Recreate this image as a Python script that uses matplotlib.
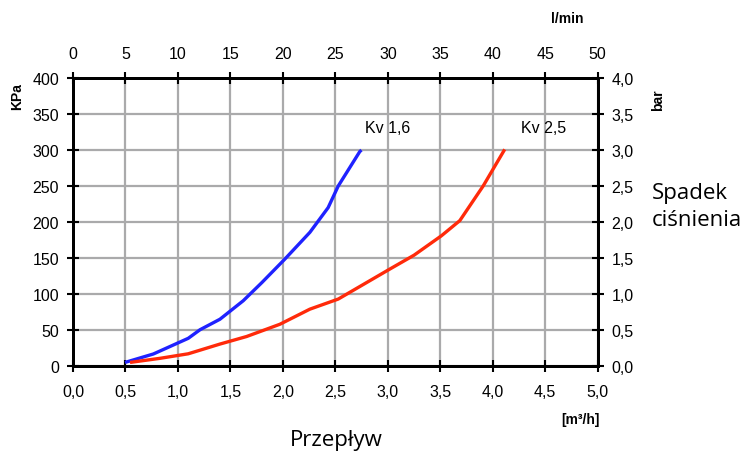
import matplotlib
matplotlib.use("Agg")
import matplotlib.pyplot as plt
from matplotlib.ticker import FixedLocator, FuncFormatter

plt.rcParams['font.family'] = ['Liberation Sans', 'DejaVu Sans']

# Flow [m3/h] vs pressure drop [kPa]
kv16_flow = [0.495, 0.765, 1.098, 1.21, 1.40, 1.622, 1.80, 2.019, 2.257, 2.431, 2.527, 2.733, 2.749]
kv16_dp = [5, 16.7, 38.5, 50.4, 65, 90.7, 116, 148.6, 185.7, 220, 250, 298, 300]

kv25_flow = [0.543, 0.829, 1.098, 1.40, 1.654, 1.971, 2.257, 2.527, 3.019, 3.25, 3.511, 3.686, 3.908, 4.114]
kv25_dp = [5, 10.7, 17, 30.5, 41, 58, 79, 93, 134.7, 154, 181, 202, 250, 301]

x_ticks = [0.0, 0.5, 1.0, 1.5, 2.0, 2.5, 3.0, 3.5, 4.0, 4.5, 5.0]
y_ticks = [0, 50, 100, 150, 200, 250, 300, 350, 400]
top_ticks = [0, 5, 10, 15, 20, 25, 30, 35, 40, 45, 50]
bar_ticks = [0.0, 0.5, 1.0, 1.5, 2.0, 2.5, 3.0, 3.5, 4.0]

fig = plt.figure(figsize=(7.49, 4.52), dpi=100)
ax = fig.add_axes([0.0975, 0.188, 0.7005, 0.637])

grid_c = '#aaaaab'
for xv in x_ticks:
    ax.axvline(xv, color=grid_c, lw=1.6, zorder=1)
for yv in y_ticks:
    ax.axhline(yv, color=grid_c, lw=1.6, zorder=1)

ax.plot(kv16_flow, kv16_dp, color='#1f22ff', lw=2.4, zorder=3, solid_capstyle='butt')
ax.plot(kv25_flow, kv25_dp, color='#ff2a0a', lw=2.4, zorder=3, solid_capstyle='butt')

tick_fs = 11.5
ax.set_xlim(0, 5)
ax.set_ylim(0, 400)
comma1 = FuncFormatter(lambda v, p: f"{v:.1f}".replace('.', ','))
ax.xaxis.set_major_locator(FixedLocator(x_ticks))
ax.xaxis.set_major_formatter(comma1)
ax.yaxis.set_major_locator(FixedLocator(y_ticks))
ax.yaxis.set_major_formatter(FuncFormatter(lambda v, p: f"{int(v)}"))
ax.tick_params(axis='x', direction='inout', length=8, width=1.5, labelsize=tick_fs, pad=9)
ax.tick_params(axis='y', direction='inout', length=8, width=1.5, labelsize=tick_fs, pad=6)

for s in ax.spines.values():
    s.set_linewidth(2)
    s.set_color('black')

axt = ax.twiny()
axt.set_xlim(0, 50)
axt.xaxis.set_major_locator(FixedLocator(top_ticks))
axt.tick_params(direction='inout', length=8, width=1.5, labelsize=tick_fs, pad=8)

axr = ax.twinx()
axr.set_ylim(0, 4)
axr.yaxis.set_major_locator(FixedLocator(bar_ticks))
axr.yaxis.set_major_formatter(comma1)
axr.tick_params(direction='inout', length=8, width=1.5, labelsize=tick_fs, pad=6)
for a in (axt, axr):
    for s in a.spines.values():
        s.set_linewidth(2)

ax.text(2.78, 331, 'Kv 1,6', fontsize=tick_fs, ha='left', va='center')
ax.text(4.27, 331, 'Kv 2,5', fontsize=tick_fs, ha='left', va='center')

fig.text(567 / 749, 1 - 19 / 452, 'l/min', fontsize=10, fontweight='bold', ha='center', va='center')
fig.text(17 / 749, 1 - 97 / 452, 'KPa', fontsize=10, fontweight='bold', rotation=90, ha='center', va='center')
fig.text(658 / 749, 1 - 100 / 452, 'bar', fontsize=10, fontweight='bold', rotation=90, ha='center', va='center')
fig.text(580 / 749, 1 - 420 / 452, '[m³/h]', fontsize=10, fontweight='bold', ha='center', va='center')
fig.text(336 / 749, 1 - 441 / 452, 'Przepływ', fontsize=16, family='Open Sans', ha='center', va='center')
fig.text(652 / 749, 1 - 207 / 452, 'Spadek\nciśnienia', fontsize=16, family='Open Sans',
         ha='left', va='center', linespacing=1.35)

fig.savefig('out.png', dpi=100)
